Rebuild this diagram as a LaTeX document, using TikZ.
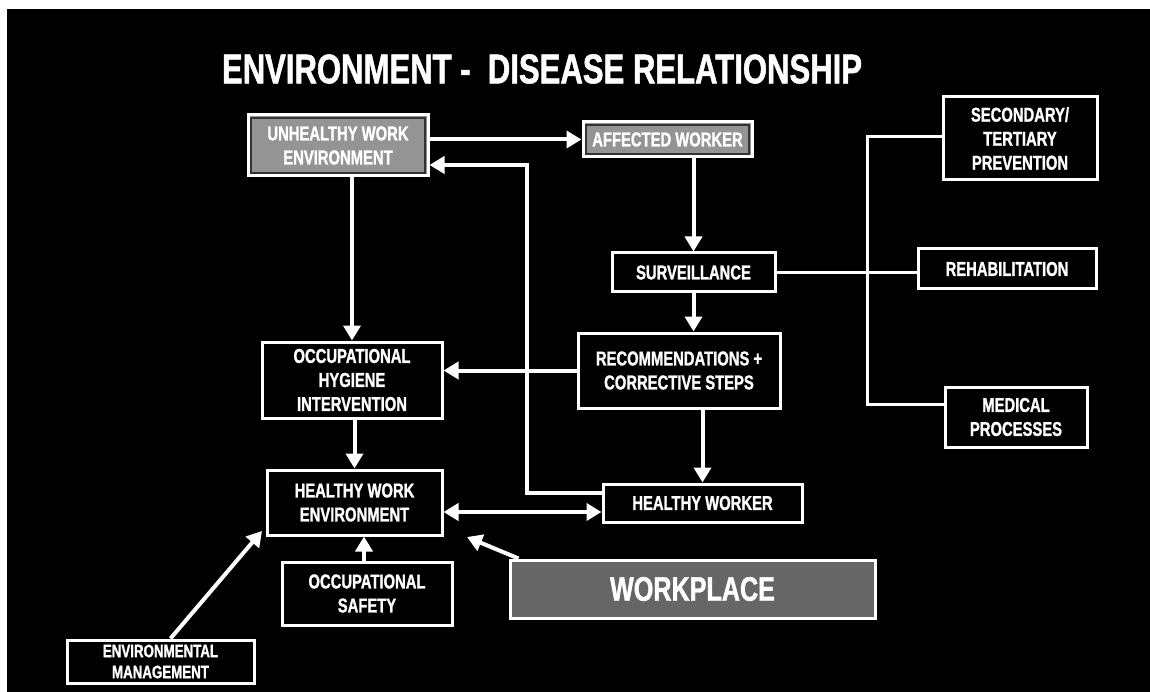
\documentclass[tikz,border=0pt]{standalone}
\usepackage{fontspec}
\setmainfont{Liberation Sans}[FakeStretch=0.74, BoldFeatures={FakeBold=1.2}]
\usetikzlibrary{arrows.meta}

\tikzset{
  box/.style={draw=white, line width=3pt, fill=black, text=white,
    font=\bfseries\fontsize{20}{24}\selectfont, align=center,
    inner sep=0pt},
  greybox/.style={box, fill=black!42,
    path picture={\draw[black!80, line width=1.2pt]
      ([shift={(3pt,-3pt)}]path picture bounding box.north west) rectangle
      ([shift={(-3pt,3pt)}]path picture bounding box.south east);}},
  placebox/.style={box, fill=black!60, font=\bfseries\fontsize{34}{38}\selectfont},
  arr/.style={draw=white, line width=4pt, -{Triangle[width=17pt,length=15pt]}},
  dblarr/.style={draw=white, line width=4pt,
    {Triangle[width=17pt,length=15pt]}-{Triangle[width=17pt,length=15pt]}},
  bus/.style={draw=white, line width=3pt},
}

\begin{document}
\begin{tikzpicture}[x=1pt, y=-1pt]
  \useasboundingbox (0,0) rectangle (1150,692);
  % paper edge and dark slide
  \fill[white] (0,0) rectangle (1150,692);
  \fill[black] (7,9) rectangle (1150,692);

  % heading
  \node[text=white, inner sep=0pt] (title) at (542,69)
    {\resizebox{640pt}{29pt}{\bfseries ENVIRONMENT -\ \ DISEASE RELATIONSHIP}};

  % boxes
  \node[greybox, minimum width=180pt, minimum height=61pt] (unh) at (338,145.5)
    {UNHEALTHY WORK\\ENVIRONMENT};
  \node[greybox, minimum width=169pt, minimum height=35pt] (aff) at (667.5,139.5)
    {AFFECTED WORKER};
  \node[box, minimum width=154pt, minimum height=83pt] (sec) at (1020,138.5)
    {SECONDARY/\\TERTIARY\\PREVENTION};
  \node[box, minimum width=163pt, minimum height=39pt] (sur) at (693.5,272.5)
    {SURVEILLANCE};
  \node[box, minimum width=178pt, minimum height=40pt] (reh) at (1007,269)
    {REHABILITATION};
  \node[box, minimum width=180pt, minimum height=76pt] (ohi) at (352,380)
    {OCCUPATIONAL\\HYGIENE\\INTERVENTION};
  \node[box, minimum width=202pt, minimum height=75pt] (rec) at (679,370.5)
    {RECOMMENDATIONS +\\CORRECTIVE STEPS};
  \node[box, minimum width=142pt, minimum height=60pt] (med) at (1016,417)
    {MEDICAL\\PROCESSES};
  \node[box, minimum width=175pt, minimum height=65pt] (hwe) at (354.5,502.5)
    {HEALTHY WORK\\ENVIRONMENT};
  \node[box, minimum width=199pt, minimum height=38pt] (hw) at (702.5,503)
    {HEALTHY WORKER};
  \node[box, minimum width=170pt, minimum height=63pt] (osa) at (367,593.5)
    {OCCUPATIONAL\\SAFETY};
  \node[placebox, minimum width=365pt, minimum height=58pt] (wp) at (692.5,589)
    {WORKPLACE};
  \node[box, minimum width=187pt, minimum height=43pt,
        font=\bfseries\fontsize{18}{21}\selectfont] (env) at (160.5,661.5)
    {ENVIRONMENTAL\\MANAGEMENT};

  % route points
  \coordinate (fb) at (527,165);
  \coordinate (envtip) at (262,531);
  \coordinate (wptip) at (467,537);
  \coordinate (bt) at (867,137);
  \coordinate (bb) at (867,404);

  % main flow
  \draw[arr] (unh.east |- aff.west) -- (aff.west);
  \draw[arr] (aff.south -| sur.north) -- (sur.north);
  \draw[arr] (sur.south) -- (sur.south |- rec.north);
  \draw[arr] (rec.south -| hw.north) -- (hw.north);
  \draw[arr] (rec.west) -- (ohi.east |- rec.west);
  \draw[arr] (unh.south -| ohi.north) -- (ohi.north);
  \draw[arr] (ohi.south -| hwe.north) -- (hwe.north);
  \draw[arr] ([yshift=10pt]hw.west) -| (fb) -- (unh.east |- fb);
  \draw[dblarr] (hwe.east |- 0,512) -- (hw.west |- 0,512);
  \draw[arr] (osa.north -| 364,0) -- (hwe.south -| 364,0);
  \draw[arr] ([xshift=10pt]env.north) -- (envtip);
  \draw[arr] ([xshift=10pt]wp.north west) -- (wptip);

  % branches from surveillance
  \draw[bus] (sur.east) -- (reh.west |- sur.east);
  \draw[bus] (sec.west |- bt) -- (bt) -- (bb) -- (bb -| med.west);
\end{tikzpicture}
\end{document}
